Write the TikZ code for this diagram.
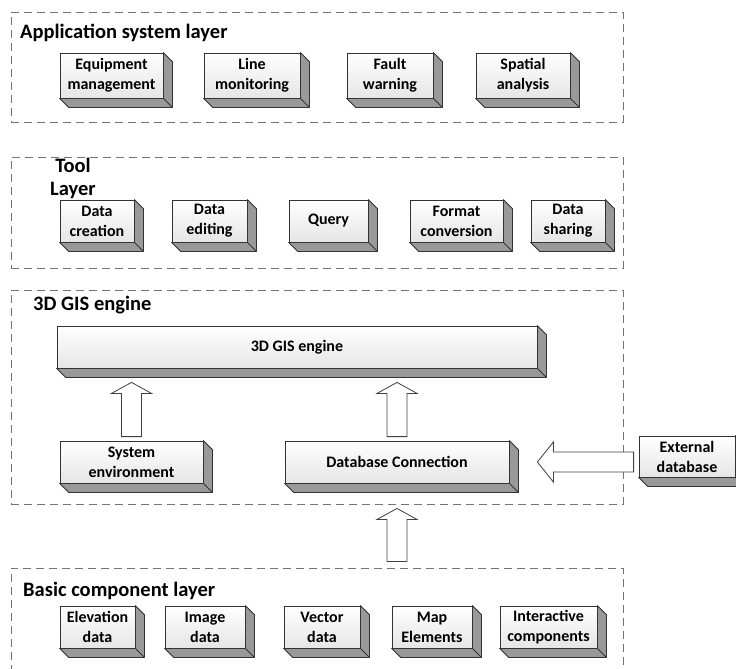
\documentclass[tikz,border=0pt]{standalone}
\usepackage{fontspec}
\setmainfont{Carlito}
\usetikzlibrary{positioning,calc}

% hollow block arrows: #1 start of the shaft, #2 the tip
\newcommand{\hollowup}[2]{%
  \draw[hollow] let \p1=#1, \p2=#2 in
    (\x1-10pt,\y1) -- (\x1-10pt,\y2-11pt) -- (\x1-20pt,\y2-11pt) -- (\x1,\y2)
    -- (\x1+20pt,\y2-11pt) -- (\x1+10pt,\y2-11pt) -- (\x1+10pt,\y1) -- cycle;}
\newcommand{\hollowleft}[2]{%
  \draw[hollow] let \p1=#1, \p2=#2 in
    (\x1,\y1+10pt) -- (\x2+16pt,\y1+10pt) -- (\x2+16pt,\y1+20pt) -- (\x2,\y1)
    -- (\x2+16pt,\y1-20pt) -- (\x2+16pt,\y1-10pt) -- (\x1,\y1-10pt) -- cycle;}

\begin{document}
\begin{tikzpicture}[x=1pt, y=-1pt,
    layer/.style={draw=black!55, dashed, dash pattern=on 8pt off 5pt, line width=0.9pt,
      minimum width=612pt, inner sep=0pt},
    title/.style={font=\bfseries\fontsize{20.5}{23}\selectfont, inner sep=0pt},
    unit/.style={draw=black!80, line width=0.8pt, top color=white, bottom color=black!10,
      font=\bfseries\fontsize{16}{20}\selectfont, align=center, inner sep=0pt,
      minimum height=42pt},
    hollow/.style={draw=black!75, fill=white, line width=0.8pt}]
    \useasboundingbox (0,0) rectangle (736,669);
    \clip (0,0) rectangle (736,669);

    % layer frames
    \node (app) [layer, minimum height=110pt] at (317,67) {};
    \node (tool) [layer, minimum height=111pt] at (317,212.5) {};
    \node (gis) [layer, minimum height=214pt] at (317,397) {};
    \node (basic) [layer, minimum height=122pt] at (317,629) {};

    \node (apptitle) [title, anchor=west] at (20,33) {Application system layer};
    \node (tooltitle) [title, align=center] at (73,178) {Tool\\Layer};
    \node (gistitle) [title, anchor=west] at (33,305) {3D GIS engine};
    \node (basictitle) [title, anchor=west] at (23,591) {Basic component layer};

    % application system layer
    \node (equip) [unit, minimum width=103pt, minimum height=45pt] at (111.5,75.5) {Equipment\\management};
    \node (linemon) [unit, minimum width=96pt, minimum height=45pt] at (252,75.5) {Line\\monitoring};
    \node (fault) [unit, minimum width=86pt, minimum height=45pt] at (390,75.5) {Fault\\warning};
    \node (spatial) [unit, minimum width=94pt, minimum height=45pt] at (523,75.5) {Spatial\\analysis};

    % tool layer
    \node (creation) [unit, minimum width=74pt] at (97,221) {Data\\creation};
    \node (editing) [unit, minimum width=75pt] at (209.5,221) {Data\\editing};
    \node (query) [unit, minimum width=79pt] at (328.5,221) {Query};
    \node (format) [unit, minimum width=93pt] at (456.5,221) {Format\\conversion};
    \node (sharing) [unit, minimum width=74pt] at (568,221) {Data\\sharing};

    % 3D GIS engine
    \node (engine) [unit, minimum width=480pt] at (297,347) {3D GIS engine};
    \node (sysenv) [unit, minimum width=143pt] at (131.5,462) {System\\environment};
    \node (dbconn) [unit, minimum width=224pt] at (397,462) {Database Connection};
    \node (extdb) [unit, minimum width=96pt, minimum height=41pt] at (687,456.5) {External\\database};

    % basic component layer
    \node (elev) [unit, minimum width=75pt] at (97.5,627) {Elevation\\data};
    \node (image) [unit, minimum width=80pt] at (205,627) {Image\\data};
    \node (vector) [unit, minimum width=76pt] at (322,627) {Vector\\data};
    \node (mapel) [unit, minimum width=80pt] at (432,627) {Map\\Elements};
    \node (interact) [unit, minimum width=97pt] at (548.5,627) {Interactive\\components};

    % depth faces
    \foreach \n in {equip,linemon,fault,spatial,creation,editing,query,format,sharing,
                    engine,sysenv,dbconn,extdb,elev,image,vector,mapel,interact} {
      \filldraw[fill=black!40, draw=black!80, line width=0.8pt, line join=round]
        (\n.north east) -- ++(9,9) -- ($(\n.south east)+(9,9)$) -- ($(\n.south west)+(9,9)$)
        -- (\n.south west) -- (\n.south east) -- cycle;
      \draw[black!80, line width=0.8pt] (\n.south east) -- ++(9,9);
    }

    % arrows
    \hollowup{($(sysenv.north)+(0,-4)$)}{($(sysenv.north |- engine.south)+(0,14)$)}
    \hollowup{($(dbconn.north)+(0,-4)$)}{($(dbconn.north |- engine.south)+(0,14)$)}
    \hollowup{($(dbconn.north |- basic.north)+(0,-6)$)}{($(dbconn.north |- gis.south)+(0,4)$)}
    \hollowleft{($(extdb.west |- dbconn.east)+(-5,0)$)}{($(dbconn.east)+(28,0)$)}
\end{tikzpicture}
\end{document}
